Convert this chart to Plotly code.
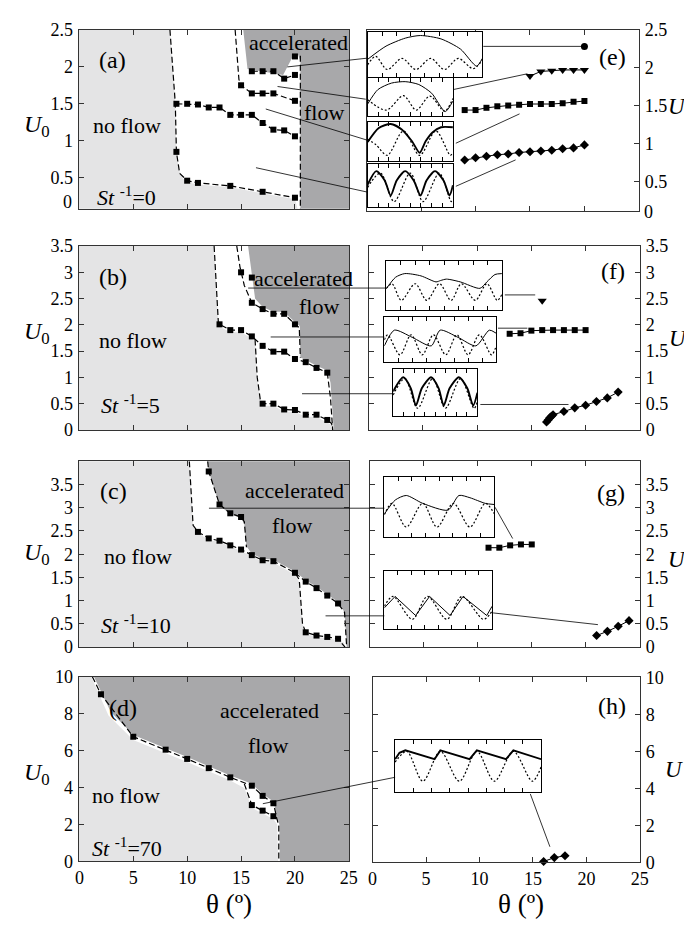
import plotly.graph_objects as go

W, H = 692, 929
SERIF = "Liberation Serif"
LIGHT = "#e4e4e5"
DARK = "#a8a8aa"
FRAME = "#333333"

# ======================= DATA =======================
# ---- (a) St^-1 = 0 : theta (deg) vs U0
a_top_theta = [20]
a_top_u0 = [2.14]
a_r1_theta = [16, 17, 18, 19, 20]
a_r1_u0 = [1.94, 1.94, 1.94, 1.84, 1.89]
a_r2_theta = [15, 16, 17, 18, 20]
a_r2_u0 = [1.75, 1.64, 1.64, 1.64, 1.54]
a_r3_theta = [9, 10, 11, 12, 13, 14, 15, 16, 17, 18, 19, 20]
a_r3_u0 = [1.50, 1.50, 1.49, 1.45, 1.45, 1.35, 1.35, 1.35, 1.24, 1.15, 1.14, 1.06]
a_r4_theta = [9, 10, 11, 14, 17, 20]
a_r4_u0 = [0.85, 0.46, 0.43, 0.39, 0.31, 0.23]
a_noflow_theta = [8.4, 8.9, 9.0, 9.25, 9.6, 10, 11, 14, 17, 20, 20.4]
a_noflow_u0 = [2.5, 1.5, 0.85, 0.6, 0.49, 0.44, 0.41, 0.37, 0.29, 0.21, 0.0]
a_accel_theta = [15.2, 15.6, 18.9, 19.8, 20.3, 20.5, 20.5]
a_accel_u0 = [2.5, 1.97, 1.89, 2.14, 2.16, 2.08, 0.0]
a_dash1_theta = [8.4, 8.9, 9.0, 9.3, 10, 11, 14, 17, 20]
a_dash1_u0 = [2.5, 1.5, 0.85, 0.56, 0.46, 0.43, 0.39, 0.31, 0.23]
a_dash2_theta = [14.45, 14.8, 15, 16, 17, 18, 20]
a_dash2_u0 = [2.5, 1.83, 1.75, 1.64, 1.64, 1.64, 1.54]
a_dash3_theta = [20.5, 20.5]
a_dash3_u0 = [2.15, 0.0]

# ---- (b) St^-1 = 5
b_top_theta = [15, 16]
b_top_u0 = [3.0, 2.9]
b_r1_theta = [16, 17, 18, 19, 20]
b_r1_u0 = [2.42, 2.30, 2.21, 2.21, 2.01]
b_r2_theta = [13, 14, 15, 16, 17, 18, 19, 20, 21, 22, 23]
b_r2_u0 = [2.01, 1.90, 1.90, 1.78, 1.60, 1.49, 1.49, 1.35, 1.29, 1.18, 1.09]
b_r3_theta = [17, 18, 19, 20, 21, 22, 23]
b_r3_u0 = [0.50, 0.50, 0.39, 0.38, 0.29, 0.29, 0.19]
b_noflow_theta = [12.5, 12.9, 13, 14, 15, 16, 16.3, 16.5, 16.8, 17, 18, 19, 20, 21, 22, 23, 23.35, 23.45]
b_noflow_u0 = [3.5, 2.02, 1.97, 1.86, 1.86, 1.74, 1.68, 1.0, 0.55, 0.46, 0.46, 0.35, 0.34, 0.25, 0.25, 0.15, 0.1, 0.0]
b_accel_theta = [15.65, 16.1, 16.3, 17, 18, 19, 20, 20.45, 20.5, 21, 22, 23, 23.3, 23.6]
b_accel_u0 = [3.5, 2.8, 2.5, 2.34, 2.25, 2.25, 2.05, 1.98, 1.38, 1.33, 1.22, 1.13, 0.9, 0.0]
b_dash1_theta = [12.5, 12.9] + b_r2_theta
b_dash1_u0 = [3.5, 2.02] + b_r2_u0
b_dash2_theta = [14.6, 14.9, 15.3, 16, 17, 18, 19, 20, 20.4, 20.5]
b_dash2_u0 = [3.5, 3.1, 2.75, 2.42, 2.30, 2.21, 2.21, 2.01, 1.95, 1.38]
b_dash3_theta = [16.3, 16.5, 16.8] + b_r3_theta + [23.4, 23.5]
b_dash3_u0 = [1.72, 1.0, 0.55] + b_r3_u0 + [0.12, 0.0]
b_dash4_theta = [23, 23.3, 23.5]
b_dash4_u0 = [1.09, 0.6, 0.0]

# ---- (c) St^-1 = 10
c_up_theta = [12, 13, 14, 15]
c_up_u0 = [3.78, 3.07, 2.88, 2.80]
c_low_theta = [11, 12, 13, 14, 15, 16, 17, 18, 20]
c_low_u0 = [2.48, 2.34, 2.29, 2.19, 2.10, 1.98, 1.87, 1.85, 1.60]
c_right_theta = [21, 22, 23, 24]
c_right_u0 = [1.41, 1.27, 1.11, 0.94]
c_bot_theta = [21, 22, 23, 24]
c_bot_u0 = [0.32, 0.25, 0.22, 0.18]
c_noflow_theta = [10.2, 10.55, 11, 12, 13, 14, 15, 16, 17, 18, 20, 20.4, 20.7, 21, 22, 23, 24, 24.55, 24.65]
c_noflow_u0 = [4.0, 2.62, 2.45, 2.31, 2.26, 2.16, 2.07, 1.95, 1.84, 1.82, 1.56, 1.4, 0.5, 0.29, 0.22, 0.19, 0.15, 0.1, 0.0]
c_accel_theta = [11.9, 12.05, 13, 14, 15, 15.3, 15.5, 16, 17, 18, 20, 21, 22, 23, 24, 24.6, 24.8]
c_accel_u0 = [4.0, 3.75, 3.05, 2.86, 2.78, 2.65, 2.17, 2.01, 1.90, 1.88, 1.63, 1.44, 1.30, 1.14, 0.97, 0.75, 0.0]
c_dash1_theta = [10.2, 10.55] + c_low_theta + [20.4, 20.7] + c_bot_theta + [24.65]
c_dash1_u0 = [4.0, 2.62] + c_low_u0 + [1.45, 0.5] + c_bot_u0 + [0.0]
c_dash2_theta = [11.9] + c_up_theta + [15.3, 15.5]
c_dash2_u0 = [4.0] + c_up_u0 + [2.7, 2.15]
c_dash3_theta = [20] + c_right_theta + [24.6, 24.8]
c_dash3_u0 = [1.6] + c_right_u0 + [0.75, 0.0]

# ---- (d) St^-1 = 70
d_up_theta = [2, 5, 8, 10, 12, 14, 16, 17, 18]
d_up_u0 = [9.05, 6.75, 6.05, 5.55, 5.05, 4.55, 4.1, 3.55, 3.15]
d_low_theta = [16, 17, 18]
d_low_u0 = [3.05, 2.75, 2.45]
d_noflow_theta = [1.1, 2, 2.7, 5, 8, 10, 12, 14, 15.3, 16, 17, 18, 18.35, 18.45]
d_noflow_u0 = [10, 8.85, 7.9, 6.58, 5.88, 5.38, 4.88, 4.38, 3.98, 2.9, 2.6, 2.3, 2.0, 0]
d_accel_theta = [1.35, 2.1, 2.9, 5, 8, 10, 12, 14, 16, 17, 18, 18.3, 18.55, 18.6]
d_accel_u0 = [10, 9.1, 8.1, 6.85, 6.15, 5.65, 5.15, 4.65, 4.2, 3.65, 3.25, 2.5, 2.0, 0]
d_dash1_theta = [1.2] + d_up_theta + [18.3, 18.5, 18.5]
d_dash1_u0 = [10] + d_up_u0 + [2.4, 1.9, 0]
d_dash2_theta = [15.3, 16, 17, 18, 18.3]
d_dash2_u0 = [4.2, 3.05, 2.75, 2.45, 2.3]

# ---- right panels: mean velocity U
e_circ_theta = [20]
e_circ_u = [2.28]
e_tri_theta = [15, 16, 17, 18, 19, 20]
e_tri_u = [1.89, 1.95, 1.96, 1.97, 1.97, 1.97]
e_sq_theta = [9, 10, 11, 12, 13, 14, 15, 16, 17, 18, 19, 20]
e_sq_u = [1.44, 1.44, 1.47, 1.49, 1.50, 1.51, 1.52, 1.52, 1.52, 1.53, 1.55, 1.56]
e_dia_theta = [9, 10, 11, 12, 13, 14, 15, 16, 17, 18, 19, 20]
e_dia_u = [0.78, 0.81, 0.83, 0.85, 0.86, 0.88, 0.89, 0.90, 0.91, 0.93, 0.94, 0.98]
f_tri_theta = [16]
f_tri_u = [2.46]
f_sq_theta = [13, 14, 15, 16, 17, 18, 19, 20]
f_sq_u = [1.83, 1.84, 1.89, 1.90, 1.90, 1.90, 1.90, 1.90]
f_dia_theta = [16.4, 16.55, 16.7, 16.85, 17, 18, 19, 20, 21, 22, 23]
f_dia_u = [0.15, 0.19, 0.23, 0.26, 0.29, 0.35, 0.42, 0.47, 0.54, 0.61, 0.72]
g_sq_theta = [11, 12, 13, 14, 15]
g_sq_u = [2.14, 2.14, 2.19, 2.21, 2.21]
g_dia_theta = [21, 22, 23, 24]
g_dia_u = [0.25, 0.34, 0.45, 0.57]
h_dia_theta = [16, 17, 18]
h_dia_u = [0.05, 0.26, 0.36]

# ---- inset time series (normalised time t, normalised velocity v)
e1_solid_t = [0, 0.16, 0.33, 0.46, 0.64, 0.81, 0.95, 1.0]
e1_solid_v = [0.38, 0.69, 0.88, 0.94, 0.86, 0.62, 0.22, 0.40]
e1_dot_t = [0, 0.07, 0.17, 0.30, 0.42, 0.55, 0.67, 0.79, 0.92, 1.0]
e1_dot_v = [0.25, 0.45, 0.14, 0.40, 0.14, 0.40, 0.14, 0.40, 0.16, 0.36]
e2_solid_t = [0, 0.12, 0.28, 0.44, 0.6, 0.75, 0.91, 1.0]
e2_solid_v = [0.3, 0.7, 0.88, 0.92, 0.84, 0.6, 0.09, 0.38]
e2_dot_t = [0, 0.22, 0.42, 0.57, 0.73, 0.90, 1.0]
e2_dot_v = [0.42, 0.13, 0.53, 0.13, 0.52, 0.10, 0.45]
e3_solid_t = [0, 0.13, 0.27, 0.40, 0.52, 0.61, 0.68, 0.76, 0.86, 1.0]
e3_solid_v = [0.48, 0.86, 0.97, 0.82, 0.5, 0.19, 0.5, 0.74, 0.88, 0.88]
e3_dot_t = [0, 0.1, 0.23, 0.42, 0.61, 0.80, 0.97, 1.0]
e3_dot_v = [0.55, 0.4, 0.12, 0.78, 0.12, 0.78, 0.12, 0.2]
e4_solid_t = [0, 0.1, 0.2, 0.27, 0.34, 0.44, 0.54, 0.62, 0.69, 0.79, 0.89, 0.96, 1.0]
e4_solid_v = [0.52, 0.85, 0.62, 0.25, 0.62, 0.85, 0.62, 0.25, 0.62, 0.85, 0.62, 0.25, 0.5]
e4_dot_t = [0, 0.15, 0.31, 0.5, 0.65, 0.84, 0.98, 1.0]
e4_dot_v = [0.45, 0.8, 0.1, 0.8, 0.1, 0.8, 0.1, 0.15]
f1_solid_t = [0, 0.08, 0.16, 0.3, 0.43, 0.47, 0.52, 0.64, 0.81, 0.87, 0.94, 1.0]
f1_solid_v = [0.42, 0.67, 0.75, 0.70, 0.57, 0.6, 0.63, 0.57, 0.43, 0.57, 0.73, 0.75]
f1_dot_t = [0, 0.05, 0.13, 0.25, 0.35, 0.46, 0.56, 0.65, 0.77, 0.87, 0.96, 1.0]
f1_dot_v = [0.43, 0.53, 0.17, 0.53, 0.17, 0.53, 0.17, 0.53, 0.17, 0.53, 0.17, 0.3]
f2_solid_t = [0, 0.09, 0.25, 0.42, 0.5, 0.66, 0.82, 0.94, 1.0]
f2_solid_v = [0.36, 0.73, 0.56, 0.36, 0.73, 0.56, 0.36, 0.73, 0.66]
f2_dot_t = [0, 0.03, 0.14, 0.24, 0.34, 0.44, 0.55, 0.65, 0.75, 0.85, 0.96, 1.0]
f2_dot_v = [0.5, 0.62, 0.15, 0.62, 0.15, 0.62, 0.15, 0.62, 0.15, 0.62, 0.15, 0.35]
f3_solid_t = [0, 0.12, 0.21, 0.27, 0.34, 0.45, 0.54, 0.6, 0.67, 0.78, 0.88, 0.95, 1.0]
f3_solid_v = [0.53, 0.85, 0.6, 0.21, 0.6, 0.85, 0.6, 0.21, 0.6, 0.85, 0.6, 0.21, 0.5]
f3_dot_t = [0, 0.14, 0.29, 0.47, 0.62, 0.8, 0.96, 1.0]
f3_dot_v = [0.45, 0.82, 0.15, 0.82, 0.15, 0.82, 0.15, 0.3]
g1_solid_t = [0, 0.1, 0.2, 0.35, 0.58, 0.68, 0.78, 0.92, 1.0]
g1_solid_v = [0.37, 0.62, 0.70, 0.56, 0.44, 0.70, 0.66, 0.56, 0.54]
g1_dot_t = [0, 0.07, 0.2, 0.35, 0.48, 0.63, 0.78, 0.92, 1.0]
g1_dot_v = [0.36, 0.56, 0.14, 0.56, 0.14, 0.56, 0.14, 0.56, 0.38]
g2_solid_t = [0, 0.1, 0.29, 0.42, 0.61, 0.73, 0.95, 1.0]
g2_solid_v = [0.35, 0.56, 0.21, 0.56, 0.21, 0.56, 0.21, 0.38]
g2_dot_t = [0, 0.08, 0.26, 0.4, 0.58, 0.72, 0.92, 1.0]
g2_dot_v = [0.38, 0.56, 0.14, 0.56, 0.14, 0.56, 0.14, 0.29]
h1_solid_t = [0, 0.03, 0.07, 0.27, 0.31, 0.51, 0.56, 0.76, 0.81, 1.0]
h1_solid_v = [0.64, 0.77, 0.82, 0.64, 0.82, 0.64, 0.82, 0.64, 0.82, 0.64]
h1_dot_t = [0, 0.08, 0.19, 0.31, 0.44, 0.56, 0.68, 0.81, 0.94, 1.0]
h1_dot_v = [0.58, 0.8, 0.19, 0.8, 0.19, 0.8, 0.19, 0.8, 0.19, 0.48]

# ======================= FIGURE =======================
fig = go.Figure()
layout = dict(width=W, height=H, margin=dict(l=0, r=0, t=0, b=0),
              paper_bgcolor="white", plot_bgcolor="white", showlegend=False,
              font=dict(family=SERIF, size=18, color="black"))


def axn(i, k):
    return f"{k}axis" if i == 1 else f"{k}axis{i}"


def ref(i, k):
    return k if i == 1 else f"{k}{i}"


def main_axes(i, xpx, ypx, yr, yticks, side, show_x):
    common = dict(showgrid=False, zeroline=False, showline=True, linecolor=FRAME,
                  linewidth=1, mirror="ticks", ticks="inside", ticklen=5,
                  tickcolor=FRAME, tickfont=dict(size=18, family=SERIF, color="black"))
    layout[axn(i, "x")] = dict(domain=[xpx[0] / W, xpx[1] / W],
                               range=[-0.07, 25.02] if side == "left" else [0, 25.02],
                               anchor=ref(i, "y"), tickvals=[0, 5, 10, 15, 20, 25],
                               showticklabels=show_x, **common)
    layout[axn(i, "y")] = dict(domain=[1 - ypx[1] / H, 1 - ypx[0] / H], range=yr,
                               anchor=ref(i, "x"), side=side, tickvals=yticks,
                               ticklabelstandoff=1, **common)


def tr(i, **kw):
    fig.add_trace(go.Scatter(xaxis=ref(i, "x"), yaxis=ref(i, "y"), hoverinfo="skip", **kw))


def region(i, th, u, color, side):
    far = -5 if side == "low" else 40
    xs = [far, th[0]] + list(th) + [th[-1], far]
    ys = [99, 99] + list(u) + [-5, -5]
    tr(i, x=xs, y=ys, mode="lines", fill="toself", fillcolor=color,
       line=dict(width=0, color=color))


def dashed(i, th, u):
    tr(i, x=th, y=u, mode="lines", line=dict(color="black", width=1.2, dash="6px,3px"))


def squares(i, th, u):
    tr(i, x=th, y=u, mode="markers", cliponaxis=False,
       marker=dict(symbol="square", size=6, color="black"))


def series(i, th, u, sym, size):
    tr(i, x=th, y=u, mode="lines+markers", cliponaxis=False,
       line=dict(color="black", width=1),
       marker=dict(symbol=sym, size=size, color="black"))


def inset(i, box, st, sv, dt, dv, thick, shape):
    x0, y0, x1, y1 = box
    layout[axn(i, "x")] = dict(domain=[x0 / W, x1 / W], range=[0, 1], anchor=ref(i, "y"),
                               showgrid=False, zeroline=False, showline=True,
                               linecolor="black", linewidth=1, mirror="ticks",
                               ticks="inside", ticklen=4, tickcolor="black",
                               tick0=0, dtick=0.125, showticklabels=False)
    layout[axn(i, "y")] = dict(domain=[1 - y1 / H, 1 - y0 / H], range=[-0.03, 1.03],
                               anchor=ref(i, "x"), showgrid=False, zeroline=False,
                               showline=True, linecolor="black", linewidth=1,
                               mirror=True, ticks="", showticklabels=False)
    tr(i, x=dt, y=dv, mode="lines",
       line=dict(color="black", width=1.2, dash="2px,2px", shape="spline", smoothing=0.9))
    tr(i, x=st, y=sv, mode="lines",
       line=dict(color="black", width=1.9 if thick else 1.0, shape=shape, smoothing=0.7))


LX = (67, 343)
# ---- main axes
main_axes(1, LX, (12, 195), [0.08, 2.501], [0.5, 1, 1.5, 2, 2.5], "left", False)
main_axes(2, LX, (233, 421), [0, 3.501], [0, 0.5, 1, 1.5, 2, 2.5, 3, 3.5], "left", False)
main_axes(3, LX, (453, 643), [0, 4.0], [0, 0.5, 1, 1.5, 2, 2.5, 3, 3.5], "left", False)
main_axes(4, LX, (673, 862), [0, 10.01], [0, 2, 4, 6, 8, 10], "left", True)
main_axes(5, (361, 639), (12, 197), [0.11, 2.501], [0.5, 1, 1.5, 2, 2.5], "right", False)
main_axes(6, (363, 640), (233, 421), [0, 3.501], [0, 0.5, 1, 1.5, 2, 2.5, 3, 3.5], "right", False)
main_axes(7, (364, 640), (453, 643), [0, 4.0], [0, 0.5, 1, 1.5, 2, 2.5, 3, 3.5], "right", False)
main_axes(8, (367, 640), (674, 863), [0, 10.01], [0, 2, 4, 6, 8, 10], "right", True)

# ---- (a)
region(1, a_noflow_theta, a_noflow_u0, LIGHT, "low")
region(1, a_accel_theta, a_accel_u0, DARK, "high")
for th, u in [(a_dash1_theta, a_dash1_u0), (a_dash2_theta, a_dash2_u0), (a_r3_theta, a_r3_u0),
              (a_r1_theta, a_r1_u0), (a_dash3_theta, a_dash3_u0)]:
    dashed(1, th, u)
for th, u in [(a_top_theta, a_top_u0), (a_r1_theta, a_r1_u0), (a_r2_theta, a_r2_u0),
              (a_r3_theta, a_r3_u0), (a_r4_theta, a_r4_u0)]:
    squares(1, th, u)

# ---- (b)
region(2, b_noflow_theta, b_noflow_u0, LIGHT, "low")
region(2, b_accel_theta, b_accel_u0, DARK, "high")
for th, u in [(b_dash1_theta, b_dash1_u0), (b_dash2_theta, b_dash2_u0),
              (b_dash3_theta, b_dash3_u0), (b_dash4_theta, b_dash4_u0)]:
    dashed(2, th, u)
for th, u in [(b_top_theta, b_top_u0), (b_r1_theta, b_r1_u0), (b_r2_theta, b_r2_u0),
              (b_r3_theta, b_r3_u0)]:
    squares(2, th, u)

# ---- (c)
region(3, c_noflow_theta, c_noflow_u0, LIGHT, "low")
region(3, c_accel_theta, c_accel_u0, DARK, "high")
for th, u in [(c_dash1_theta, c_dash1_u0), (c_dash2_theta, c_dash2_u0), (c_dash3_theta, c_dash3_u0)]:
    dashed(3, th, u)
for th, u in [(c_up_theta, c_up_u0), (c_low_theta, c_low_u0), (c_right_theta, c_right_u0),
              (c_bot_theta, c_bot_u0)]:
    squares(3, th, u)

# ---- (d)
region(4, d_noflow_theta, d_noflow_u0, LIGHT, "low")
region(4, d_accel_theta, d_accel_u0, DARK, "high")
for th, u in [(d_dash1_theta, d_dash1_u0), (d_dash2_theta, d_dash2_u0)]:
    dashed(4, th, u)
for th, u in [(d_up_theta, d_up_u0), (d_low_theta, d_low_u0)]:
    squares(4, th, u)

# ---- right panels
series(5, e_circ_theta, e_circ_u, "circle", 7)
series(5, e_tri_theta, e_tri_u, "triangle-down", 8)
series(5, e_sq_theta, e_sq_u, "square", 6)
series(5, e_dia_theta, e_dia_u, "diamond", 7)
series(6, f_tri_theta, f_tri_u, "triangle-down", 8)
series(6, f_sq_theta, f_sq_u, "square", 6)
series(6, f_dia_theta, f_dia_u, "diamond", 7)
series(7, g_sq_theta, g_sq_u, "square", 6)
series(7, g_dia_theta, g_dia_u, "diamond", 7)
series(8, h_dia_theta, h_dia_u, "diamond", 7)

# ---- insets
inset(9, (362, 14, 479, 60), e1_solid_t, e1_solid_v, e1_dot_t, e1_dot_v, False, "spline")
inset(10, (362, 61, 449, 100), e2_solid_t, e2_solid_v, e2_dot_t, e2_dot_v, False, "spline")
inset(11, (362, 106, 449, 146), e3_solid_t, e3_solid_v, e3_dot_t, e3_dot_v, True, "spline")
inset(12, (362, 149, 449, 193), e4_solid_t, e4_solid_v, e4_dot_t, e4_dot_v, True, "spline")
inset(13, (381, 248, 499, 298), f1_solid_t, f1_solid_v, f1_dot_t, f1_dot_v, False, "spline")
inset(14, (379, 306, 493, 352), f2_solid_t, f2_solid_v, f2_dot_t, f2_dot_v, False, "spline")
inset(15, (388, 359, 474, 407), f3_solid_t, f3_solid_v, f3_dot_t, f3_dot_v, True, "spline")
inset(16, (379, 469, 491, 530), g1_solid_t, g1_solid_v, g1_dot_t, g1_dot_v, False, "spline")
inset(17, (379, 565, 489, 624), g2_solid_t, g2_solid_v, g2_dot_t, g2_dot_v, False, "linear")
inset(18, (390, 738, 539, 791), h1_solid_t, h1_solid_v, h1_dot_t, h1_dot_v, True, "linear")

# ---- leader lines (pixel positions)
leaders = [
    ((280, 50), (362, 41)), ((270, 70), (360, 83)), ((258, 93), (362, 125)), ((248, 153), (362, 178)),
    ((480, 29), (582, 29)), ((450, 73), (525, 57)), ((452, 128), (517, 98)), ((452, 172), (513, 145)),
    ((240, 276), (381, 276)), ((263, 326), (379, 326)), ((295, 384), (388, 384)),
    ((502, 283), (533, 283)), ((495, 317), (525, 317)), ((477, 395), (567, 395)),
    ((200, 501), (379, 501)), ((319, 611), (379, 611)),
    ((492, 500), (510, 532)), ((490, 608), (597, 620)),
    ((255, 803), (390, 776)), ((528, 793), (548, 847)),
]
layout["shapes"] = [dict(type="line", xref="paper", yref="paper",
                         x0=a[0] / W, y0=1 - a[1] / H, x1=b[0] / W, y1=1 - b[1] / H,
                         line=dict(color="black", width=0.8)) for a, b in leaders]

# ---- text
ann = []


def txt(x, y, s, size=22, xanchor="center"):
    ann.append(dict(x=x / W, y=1 - y / H, xref="paper", yref="paper", text=s, showarrow=False,
                    xanchor=xanchor, yanchor="middle", borderpad=0,
                    font=dict(family=SERIF, size=size, color="black")))


for lab, p, nf, ac, fl, st, stv in [
    ("(a)", (102, 43), (116, 110), (291, 25), (317, 97), (116, 182), "0"),
    ("(b)", (102, 265), (122, 330), (296, 266), (312, 295), (120, 395), "5"),
    ("(c)", (103, 483), (128, 550), (287, 483), (285, 519), (126, 619), "10"),
    ("(d)", (112, 705), (115, 795), (262, 708), (260, 743), (116, 847), "70"),
]:
    txt(*p, lab, size=24)
    txt(*nf, "no flow")
    txt(*ac, "accelerated")
    txt(*fl, "flow")
    txt(*st, f"<i>St</i> <sup>-1</sup>=" + stv)

for lab, p in [("(e)", (612, 40)), ("(f)", (612, 259)), ("(g)", (610, 485)), ("(h)", (611, 703))]:
    txt(*p, lab, size=24)

for y in (110, 322, 548, 773):
    txt(24, y, "<i>U</i><sub>0</sub>", size=24)
for x, y in ((667, 90), (669, 328), (668, 553), (664, 768)):
    txt(x, y, "<i>U</i>", size=23, xanchor="left")

txt(61, 188, "0", size=18, xanchor="right")
txt(643, 198, "0", size=18, xanchor="left")
txt(220, 906, "θ (º)", size=27)
txt(518, 906, "θ (º)", size=27)
layout["annotations"] = ann

fig.update_layout(**layout)
fig.write_html("out.html")
